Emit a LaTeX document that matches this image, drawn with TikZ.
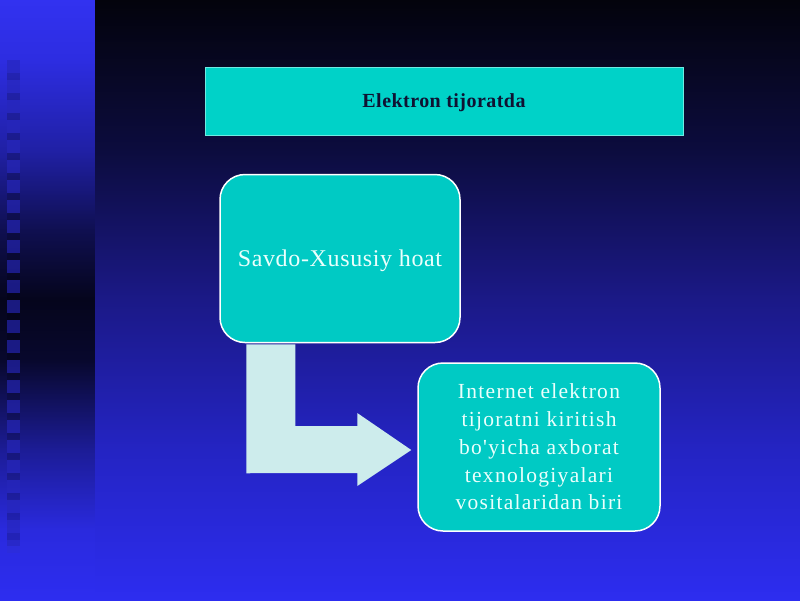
\documentclass[tikz,border=0pt]{standalone}
\usepackage{fontspec}
\setmainfont{Liberation Serif}
\newfontfamily\boxafont[LetterSpace=2.7]{Liberation Serif}
\newfontfamily\boxbfont[LetterSpace=6]{Liberation Serif}
\newfontfamily\titlefont[LetterSpace=2.3]{Liberation Serif}
\usetikzlibrary{calc}
\definecolor{mbA}{RGB}{45,45,240}
\definecolor{mbB}{RGB}{36,36,195}
\definecolor{mbC}{RGB}{27,25,135}
\definecolor{mbD}{RGB}{12,12,62}
\definecolor{mbE}{RGB}{3,3,12}
\definecolor{lsA}{RGB}{45,45,240}
\definecolor{lsB}{RGB}{42,42,222}
\definecolor{lsC}{RGB}{28,28,150}
\definecolor{lsD}{RGB}{8,8,45}
\definecolor{lsE}{RGB}{5,5,28}
\definecolor{lsF}{RGB}{15,15,80}
\definecolor{lsG}{RGB}{32,32,165}
\definecolor{lsH}{RGB}{45,45,225}
\definecolor{lsI}{RGB}{50,50,240}
\definecolor{sqc}{RGB}{45,45,215}
\definecolor{turq}{RGB}{0,210,200}
\definecolor{boxc}{RGB}{0,202,196}
\definecolor{titleedge}{RGB}{110,235,225}
\definecolor{titletext}{RGB}{15,18,50}
\definecolor{arrowc}{RGB}{205,236,236}
\definecolor{boxtext}{RGB}{235,255,252}
\pgfdeclareverticalshading{mainbg}{100bp}{color(0bp)=(mbA); color(25bp)=(mbA); color(37.5bp)=(mbB); color(50bp)=(mbC); color(62.5bp)=(mbD); color(75bp)=(mbE); color(100bp)=(mbE)}
\pgfdeclareverticalshading{leftbg}{100bp}{color(0bp)=(lsA); color(25bp)=(lsA); color(30.8bp)=(lsB); color(37.5bp)=(lsC); color(45bp)=(lsD); color(50bp)=(lsE); color(55.8bp)=(lsF); color(62.5bp)=(lsG); color(70bp)=(lsH); color(75bp)=(lsI); color(100bp)=(lsI)}
\begin{document}
\begin{tikzpicture}[x=1pt,y=-1pt,
  titlebox/.style={draw=titleedge, line width=1pt, fill=turq, minimum width=478pt, minimum height=68pt, inner sep=0pt, text depth=0pt, text=titletext, font=\titlefont\fontsize{20}{24}\selectfont\bfseries},
  roundbox/.style={draw=white, line width=1.5pt, fill=boxc, rounded corners=25pt, inner sep=0pt, text=boxtext, align=center},
  sqbox/.style={fill=sqc, fill opacity=0.55}
]
\useasboundingbox (0,0) rectangle (800,600);
\shade[shading=leftbg] (0,0) rectangle (95,600);
\shade[shading=mainbg] (95,0) rectangle (800,600);
\fill[black, opacity=0.18] (7,60) rectangle (20,546);
\foreach \i in {0,...,24} {
  \fill[sqbox] (7,60+20*\i) rectangle ++(13,13);
}
\node[titlebox] (title) at (444,101) {Elektron tijoratda};
\node[roundbox, minimum width=240pt, minimum height=168pt, text depth=0pt, font=\boxafont\fontsize{24}{28}\selectfont] (b1) at (340,258.5) {Savdo-Xususiy hoat};
\node[roundbox, minimum width=242pt, minimum height=168pt, font=\boxbfont\fontsize{21.5}{27.8}\selectfont] (b2) at (539,447) {Internet elektron\\tijoratni kiritish\\bo'yicha axborat\\texnologiyalari\\vositalaridan biri};
\fill[arrowc] ($(b1.south west)+(27,1)$) -- ($(b1.south west)+(76,1)$) |- ($(b2.west)+(-60,-21)$) -- ($(b2.west)+(-60,-34)$) -- ($(b2.west)+(-6,3)$) -- ($(b2.west)+(-60,39)$) -- ($(b2.west)+(-60,26)$) -- ($(b1.south west)+(27,130)$) -- cycle;
\end{tikzpicture}
\end{document}
